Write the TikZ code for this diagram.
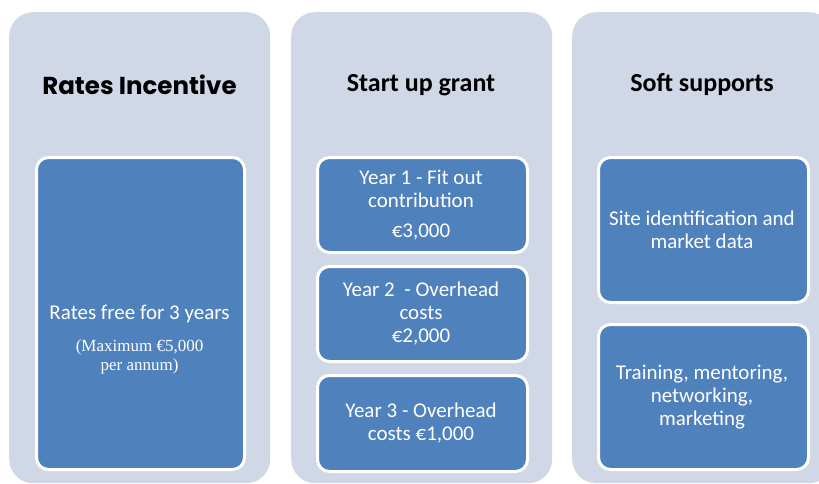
\documentclass[tikz,border=0pt]{standalone}
\usepackage{fontspec}
\setmainfont{Carlito}
\newfontfamily\gothicfont{Poppins}
\newfontfamily\seriffont{Liberation Serif}
\definecolor{panelbg}{HTML}{D0D8E8}
\definecolor{boxblue}{HTML}{4F81BD}
\tikzset{
  panel/.style={fill=panelbg, draw=none, rounded corners=24pt, anchor=north west, inner sep=0pt},
  bluebox/.style={fill=boxblue, draw=white, line width=3pt, rounded corners=12pt, anchor=north west, inner sep=0pt},
  heading/.style={text=black, font=\fontsize{26}{30}\selectfont\bfseries, inner sep=0pt},
  body/.style={text=white, font=\fontsize{21}{23}\selectfont, align=center, inner sep=0pt},
  small/.style={text=white, font=\seriffont\fontsize{17}{18.5}\selectfont, align=center, inner sep=0pt}
}
\begin{document}
\begin{tikzpicture}[x=1pt,y=-1pt]
\useasboundingbox (0,0) rectangle (819,484);
\clip (0,0) rectangle (819,484);
\fill[white] (0,0) rectangle (819,484);
% panels
\node[panel, minimum width=261pt, minimum height=471pt] (p1) at (9,12) {};
\node[panel, minimum width=261pt, minimum height=471pt] (p2) at (291,12) {};
\node[panel, minimum width=261pt, minimum height=471pt] (p3) at (572,12) {};
% headings
\node[heading, font=\gothicfont\fontsize{24.5}{28}\selectfont\bfseries] (h1) at (139.5,85) {Rates Incentive};
\node[heading] (h2) at (421,85) {Start up grant};
\node[heading] (h3) at (702,85) {Soft supports};
% left box
\node[bluebox, minimum width=208pt, minimum height=312pt] (b1) at (35,156) {};
\node[body] (t1) at (139.5,314) {Rates free for 3 years};
\node[small] (t1s) at (139.5,357) {(Maximum €5,000\\per annum)};
% middle boxes
\node[bluebox, minimum width=210pt, minimum height=95pt] (m1) at (316,156) {};
\node[bluebox, minimum width=210pt, minimum height=95pt] (m2) at (316,265) {};
\node[bluebox, minimum width=210pt, minimum height=96pt] (m3) at (316,374) {};
\node[body] (mt1) at (421,189) {Year 1 - Fit out\\contribution};
\node[body] (mt1b) at (421,232) {€3,000};
\node[body] (mt2) at (421,314) {Year 2 \ - Overhead\\costs\\€2,000};
\node[body] (mt3) at (421,423) {Year 3 - Overhead\\costs €1,000};
% right boxes
\node[bluebox, minimum width=210pt, minimum height=145pt] (r1) at (597,156) {};
\node[bluebox, minimum width=210pt, minimum height=145pt] (r2) at (597,323) {};
\node[body] (rt1) at (702,230) {Site identification and\\market data};
\node[body] (rt2) at (702,397) {Training, mentoring,\\networking,\\marketing};
\end{tikzpicture}
\end{document}
